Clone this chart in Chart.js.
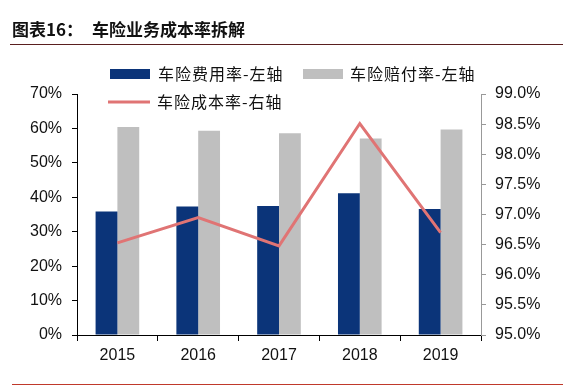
<!DOCTYPE html>
<html>
<head>
<meta charset="utf-8">
<script src="https://cdn.jsdelivr.net/npm/chart.js@4.4.1/dist/chart.umd.min.js"></script>
<style>
  html, body { margin: 0; padding: 0; background: #fff; }
  #wrap { position: relative; width: 575px; height: 388px; }
</style>
</head>
<body>
<div id="wrap"><canvas id="myChart" width="575" height="388"></canvas></div>
<script>
// données
const years = ['2015', '2016', '2017', '2018', '2019'];
const feeRate = [35.9, 37.3, 37.5, 41.2, 36.6];      // 车险费用率 (axe gauche)
const lossRate = [60.4, 59.3, 58.6, 57.1, 59.7];     // 车险赔付率 (axe gauche)
const costRate = [96.53, 96.95, 96.48, 98.51, 96.70]; // 车险成本率 (axe droit)
const leftTicks = [0, 10, 20, 30, 40, 50, 60, 70];
const rightTicks = [95, 95.5, 96, 96.5, 97, 97.5, 98, 98.5, 99];

const FONT = '"Liberation Sans", Arial, "Noto Sans CJK SC", sans-serif';
const CJK = '"Noto Sans CJK SC", "Liberation Sans", sans-serif';

// titre + filets + légende dessinés à la main
const decor = {
  id: 'decor',
  afterDraw(chart) {
    const ctx = chart.ctx;
    ctx.save();
    ctx.fillStyle = '#111';
    ctx.textBaseline = 'middle';
    ctx.font = 'bold 17px ' + CJK;
    ctx.fillText('图表16：', 12, 30);
    ctx.fillText('车险业务成本率拆解', 92, 30);
    ctx.strokeStyle = '#5a1f1f';
    ctx.lineWidth = 1.2;
    ctx.beginPath(); ctx.moveTo(10, 44.5); ctx.lineTo(563, 44.5); ctx.stroke();
    ctx.strokeStyle = '#c0392b';
    ctx.beginPath(); ctx.moveTo(12, 384.5); ctx.lineTo(563, 384.5); ctx.stroke();

    // légende
    const byId = id => chart.data.datasets.find(d => d.id === id);
    const fee = byId('fee'), loss = byId('loss'), cost = byId('cost');
    ctx.font = '16px ' + CJK;
    ctx.letterSpacing = '1px';
    ctx.fillStyle = fee.backgroundColor;
    ctx.fillRect(110, 69, 40, 10);
    ctx.fillStyle = '#111';
    ctx.fillText(fee.label, 158, 74);
    ctx.fillStyle = loss.backgroundColor;
    ctx.fillRect(303, 69, 40, 10);
    ctx.fillStyle = '#111';
    ctx.fillText(loss.label, 350, 74);
    ctx.strokeStyle = cost.borderColor;
    ctx.lineWidth = 3;
    ctx.beginPath(); ctx.moveTo(108, 102); ctx.lineTo(150, 102); ctx.stroke();
    ctx.fillText(cost.label, 157, 102);
    ctx.restore();
  }
};

new Chart(document.getElementById('myChart'), {
  data: {
    labels: years,
    datasets: [
      {
        id: 'cost',
        type: 'line',
        label: '车险成本率-右轴',
        data: costRate,
        yAxisID: 'y1',
        borderColor: '#e07474',
        borderWidth: 3,
        pointRadius: 0,
        tension: 0,
        order: 0
      },
      {
        id: 'fee',
        type: 'bar',
        label: '车险费用率-左轴',
        data: feeRate,
        yAxisID: 'y',
        backgroundColor: '#0b3479',
        categoryPercentage: 0.54,
        barPercentage: 1.0,
        order: 1
      },
      {
        id: 'loss',
        type: 'bar',
        label: '车险赔付率-左轴',
        data: lossRate,
        yAxisID: 'y',
        backgroundColor: '#bfbfbf',
        categoryPercentage: 0.54,
        barPercentage: 1.0,
        order: 1
      }
    ]
  },
  options: {
    responsive: false,
    animation: false,
    layout: { padding: { top: 94, left: 0, right: 0, bottom: 0 } },
    plugins: { legend: { display: false }, tooltip: { enabled: false } },
    scales: {
      x: {
        offset: true,
        grid: { offset: true, drawOnChartArea: false, drawTicks: true, tickLength: 6, color: '#000' },
        border: { color: '#000', width: 1 },
        ticks: { color: '#111', font: { family: FONT, size: 16 }, padding: 5 },
        afterFit(scale) { scale.height = 53; }
      },
      y: {
        position: 'left',
        min: 0, max: 70,
        afterBuildTicks(scale) { scale.ticks = leftTicks.map(v => ({ value: v })); },
        grid: { drawOnChartArea: false, drawTicks: true, tickLength: 5, color: '#000' },
        border: { color: '#000', width: 1 },
        ticks: { color: '#111', font: { family: FONT, size: 16 }, padding: 10, callback: v => v + '%' },
        afterFit(scale) { scale.width = 77; }
      },
      y1: {
        position: 'right',
        min: 95, max: 99,
        afterBuildTicks(scale) { scale.ticks = rightTicks.map(v => ({ value: v })); },
        grid: { drawOnChartArea: false, drawTicks: true, tickLength: 5, color: '#999' },
        border: { color: '#999', width: 1 },
        ticks: { color: '#111', font: { family: FONT, size: 16 }, padding: 9, callback: v => v.toFixed(1) + '%' },
        afterFit(scale) { scale.width = 94; }
      }
    }
  },
  plugins: [decor]
});
</script>
</body>
</html>
